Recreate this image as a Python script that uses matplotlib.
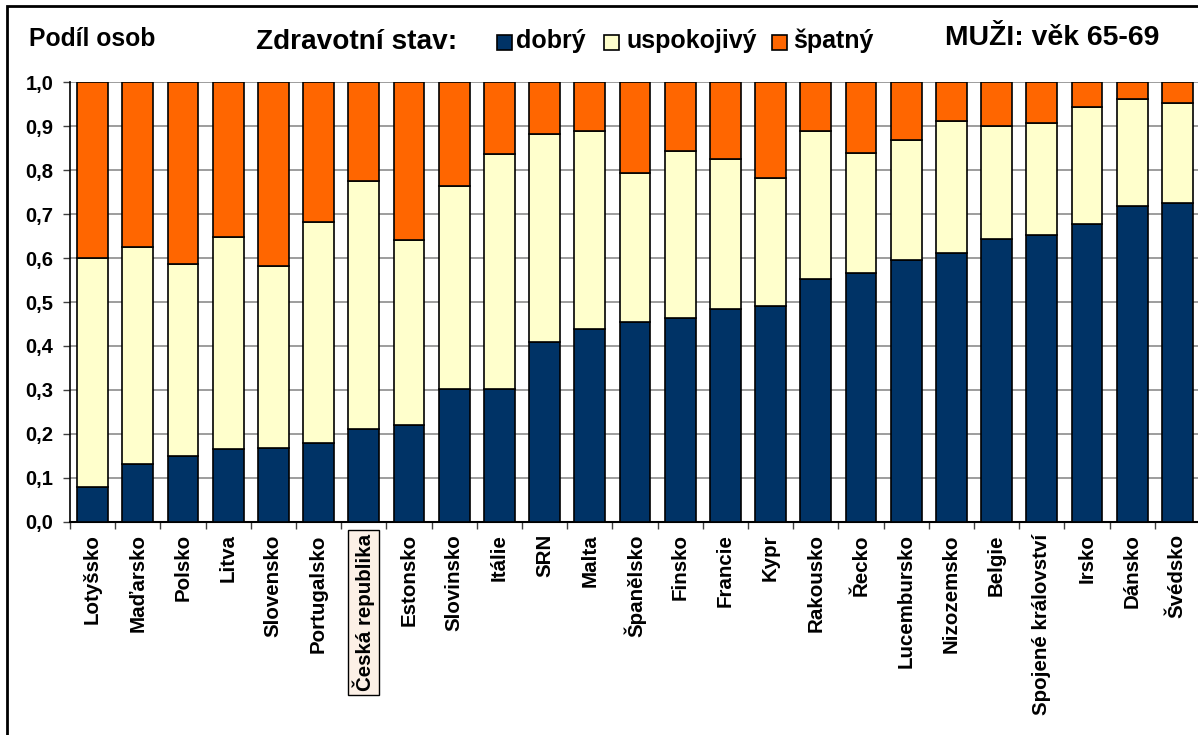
import numpy as np
import matplotlib
matplotlib.use("Agg")
import matplotlib.pyplot as plt
from matplotlib.patches import Rectangle

categories = ["Lotyšsko", "Maďarsko", "Polsko", "Litva", "Slovensko", "Portugalsko",
              "Česká republika", "Estonsko", "Slovinsko", "Itálie", "SRN", "Malta",
              "Španělsko", "Finsko", "Francie", "Kypr", "Rakousko", "Řecko",
              "Lucembursko", "Nizozemsko", "Belgie", "Spojené království", "Irsko",
              "Dánsko", "Švédsko"]
dobry = [0.078, 0.131, 0.149, 0.165, 0.168, 0.178, 0.210, 0.221, 0.303, 0.303, 0.409, 0.438,
         0.455, 0.464, 0.485, 0.491, 0.552, 0.567, 0.595, 0.612, 0.644, 0.652, 0.677, 0.719, 0.726]
# cumulative top of "uspokojivý" (dobrý + uspokojivý)
dobry_usp = [0.601, 0.626, 0.587, 0.648, 0.583, 0.683, 0.776, 0.641, 0.765, 0.836, 0.883, 0.890,
             0.793, 0.844, 0.826, 0.783, 0.890, 0.840, 0.869, 0.912, 0.901, 0.908, 0.944, 0.961, 0.954]
uspokojivy = [round(b - a, 3) for a, b in zip(dobry, dobry_usp)]
spatny = [round(1 - b, 3) for b in dobry_usp]
series_names = ["dobrý", "uspokojivý", "špatný"]
series_colors = ["#003366", "#FFFFCC", "#FF6600"]
yticks = [0.0, 0.1, 0.2, 0.3, 0.4, 0.5, 0.6, 0.7, 0.8, 0.9, 1.0]
ytick_labels = ["0,0", "0,1", "0,2", "0,3", "0,4", "0,5", "0,6", "0,7", "0,8", "0,9", "1,0"]
highlight = "Česká republika"

W, H = 1198, 735
fig = plt.figure(figsize=(W / 100, H / 100), dpi=100)
plt.rcParams['font.family'] = ['Liberation Sans', 'DejaVu Sans']

ax = fig.add_axes([70 / W, 1 - 521.7 / H, 1130 / W, 439.4 / H])
x = np.arange(len(categories))
bw = 0.68
bottom = np.zeros(len(categories))
for vals, col in zip([dobry, uspokojivy, spatny], series_colors):
    ax.bar(x, vals, bw, bottom=bottom, color=col, edgecolor="black", linewidth=1.2, zorder=3)
    bottom = bottom + np.array(vals)

ax.set_xlim(-0.5, len(categories) - 0.5)
ax.set_ylim(0, 1.0)
ax.set_yticks(yticks)
ax.set_yticklabels(ytick_labels, fontsize=14.5, fontweight="bold")
ax.yaxis.grid(True, color="#8c8c8c", linewidth=1.2, zorder=0)
ax.set_axisbelow(True)
ax.tick_params(axis="y", length=5, width=1, pad=7, color="#404040")

ax.set_xticks(x)
ax.set_xticklabels(categories, rotation=90, fontsize=14.8, fontweight="bold",
                   family=["Liberation Sans Narrow", "Liberation Sans", "DejaVu Sans"],
                   va="top", ha="center")
ax.set_xticks(np.arange(-0.5, len(categories), 1), minor=True)
ax.tick_params(axis="x", which="major", length=0, pad=9)
ax.tick_params(axis="x", which="minor", length=5, width=1, color="#404040")

for lbl in ax.get_xticklabels():
    if lbl.get_text() == highlight:
        lbl.set_bbox(dict(boxstyle="square,pad=0.2", facecolor="#FCF0E6",
                          edgecolor="black", linewidth=1))

for s in ["top", "right"]:
    ax.spines[s].set_visible(False)
ax.spines["left"].set_color("black")
ax.spines["bottom"].set_color("black")
ax.spines["left"].set_linewidth(1.2)
ax.spines["bottom"].set_linewidth(1.5)

# figure border
fig.add_artist(Rectangle((7 / W, -0.2), 1.5, 1 - 6 / H + 0.2, transform=fig.transFigure,
                         fill=False, edgecolor="black", linewidth=2))

# header texts
fig.text(29 / W, 1 - 39 / H, "Podíl osob", fontsize=17.8, fontweight="bold", va="center", ha="left")
fig.text(256 / W, 1 - 42 / H, "Zdravotní stav:", fontsize=20.2, fontweight="bold", va="center", ha="left")
fig.text(945 / W, 1 - 38 / H, "MUŽI: věk 65-69", fontsize=20.4, fontweight="bold", va="center", ha="left")

leg_sq_x = [497, 604, 772]
leg_tx_x = [516, 627, 793]
for name, col, sx, tx in zip(series_names, series_colors, leg_sq_x, leg_tx_x):
    fig.add_artist(Rectangle((sx / W, 1 - 50 / H), 15 / W, 15 / H, transform=fig.transFigure,
                             facecolor=col, edgecolor="black", linewidth=1.2))
    fig.text(tx / W, 1 - 41 / H, name, fontsize=18, fontweight="bold", va="center", ha="left")

fig.savefig("out.png", dpi=100)
